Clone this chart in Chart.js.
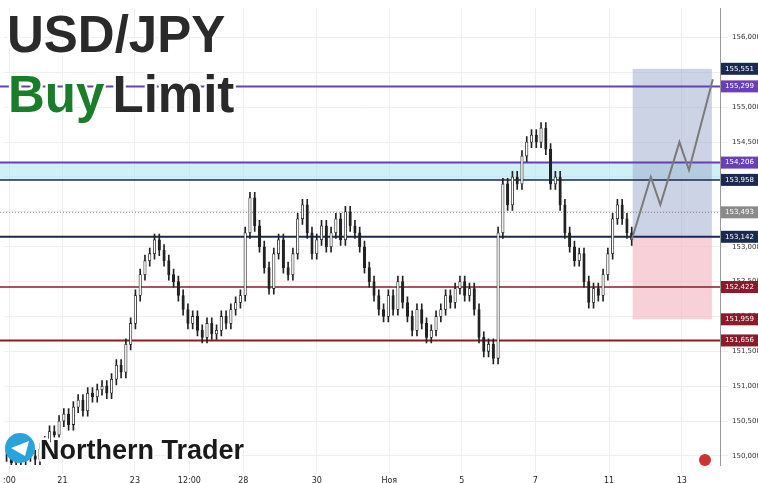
<!DOCTYPE html>
<html><head><meta charset="utf-8">
<script src="https://cdn.jsdelivr.net/npm/chart.js@4.4.0/dist/chart.umd.min.js"></script>
<style>html,body{margin:0;padding:0;background:#fff}#w{width:758px;height:483px}</style>
</head><body><div id="w"><canvas id="c"></canvas></div>
<script>
const closes=[150.0,149.9,150.05,149.95,150.1,150.0,149.95,150.1,150.2,
150.35,150.3,150.5,150.6,150.45,150.7,150.8,150.65,150.9,150.85,150.95,151.0,150.9,
151.1,151.3,151.2,151.6,151.9,152.3,152.6,
152.8,152.9,153.1,152.95,
152.8,152.6,152.5,152.3,152.1,
151.9,152.0,151.8,151.7,151.9,151.75,151.8,152.0,151.9,152.1,152.2,152.3,
153.2,153.7,153.3,153.0,152.7,
152.4,152.9,153.1,152.7,152.6,152.9,153.4,153.6,
153.2,152.9,153.1,153.3,153.0,153.2,
153.4,153.1,153.5,153.3,153.2,153.0,152.7,
152.5,152.3,152.1,152.0,152.3,152.1,152.5,152.2,152.0,151.8,152.1,151.9,
151.7,151.8,152.0,152.1,152.3,152.2,152.4,152.5,152.3,152.4,
152.1,151.7,151.5,151.6,151.4,153.2,
153.9,153.6,154.0,153.9,154.3,154.5,154.6,154.5,
154.7,154.4,153.9,154.0,153.6,
153.2,153.0,152.8,152.9,152.5,152.2,152.4,152.3,
152.6,152.9,153.4,153.6,153.4,153.2,153.1];
const projection=[{x:131,y:153.1},{x:135,y:154.0},{x:137,y:153.6},{x:141,y:154.5},{x:143,y:154.1},{x:148,y:155.4}];
const xTickPos=[0.6,11.7,26.9,38.3,49.6,65,80.2,95.4,110.8,126.25,141.5];
const xTickLabels=[':00','21','23','12:00','28','30','Ноя','5','7','11','13'];
const levels=[
 {v:155.551,c:'#1c2a4f',line:false},
 {v:155.299,c:'#6a3fb5',line:true,w:2},
 {v:154.206,c:'#6a3fb5',line:true,w:2},
 {v:153.958,c:'#1c2a4f',line:true,w:1.5},
 {v:153.493,c:'#8a8a8a',line:'dot',w:1},
 {v:153.142,c:'#1c2a4f',line:true,w:2},
 {v:152.422,c:'#8b1a2a',line:true,w:1.5},
 {v:151.959,c:'#8b1a2a',line:false},
 {v:151.656,c:'#8b1a2a',line:true,w:2}];
const fmt=v=>v.toFixed(3).replace('.',',');
const opens=closes.map((c,i)=>i?closes[i-1]:c);
const bodies=closes.map((c,i)=>({x:i,y:[opens[i],c]}));
const wicks=closes.map((c,i)=>({x:i,y:[Math.min(opens[i],c)-0.08,Math.max(opens[i],c)+0.08]}));
const up=closes.map((c,i)=>c>=opens[i]);
const deco={id:'deco',
 beforeDatasetsDraw(ch){const {ctx,scales:{x,y},chartArea:a}=ch;ctx.save();
  const X=v=>x.getPixelForValue(v),Y=v=>y.getPixelForValue(v);
  ctx.fillStyle='rgba(175,230,240,0.6)';ctx.fillRect(0,Y(154.206),a.right,Y(153.958)-Y(154.206));
  ctx.fillStyle='rgba(160,175,205,0.55)';ctx.fillRect(X(131.2),Y(155.551),X(147.8)-X(131.2),Y(153.142)-Y(155.551));
  ctx.fillStyle='rgba(245,190,200,0.7)';ctx.fillRect(X(131.2),Y(153.142),X(147.8)-X(131.2),Y(151.959)-Y(153.142));
  levels.forEach(l=>{if(!l.line)return;ctx.strokeStyle=l.c;ctx.lineWidth=l.w;ctx.setLineDash(l.line==='dot'?[1,2]:[]);
   ctx.beginPath();ctx.moveTo(0,Y(l.v));ctx.lineTo(a.right,Y(l.v));ctx.stroke();});
  ctx.setLineDash([]);ctx.restore();},
 afterDraw(ch){const {ctx,scales:{y},chartArea:a}=ch;ctx.save();
  levels.forEach(l=>{const py=y.getPixelForValue(l.v);ctx.fillStyle=l.c;ctx.fillRect(a.right+1,py-6,37,12);
   ctx.fillStyle='#fff';ctx.font='7px "DejaVu Sans"';ctx.textAlign='left';ctx.textBaseline='middle';ctx.fillText(fmt(l.v),a.right+5,py);});
  ctx.textBaseline='alphabetic';ctx.textAlign='left';
  ctx.font='bold 51px "Liberation Sans"';ctx.lineWidth=5;ctx.strokeStyle='#fff';
  ctx.strokeText('USD/JPY',7,52);ctx.fillStyle='#2a2a2a';ctx.fillText('USD/JPY',7,52);
  ctx.strokeText('Buy',8,112);ctx.fillStyle='#1a7d2a';ctx.fillText('Buy',8,112);
  const bw=ctx.measureText('Buy ').width;ctx.strokeText('Limit',8+bw-6,112);ctx.fillStyle='#2a2a2a';ctx.fillText('Limit',8+bw-6,112);
  ctx.beginPath();ctx.arc(20,448,15,0,7);ctx.fillStyle='#2aa3dd';ctx.fill();
  ctx.fillStyle='#fff';ctx.beginPath();ctx.moveTo(11,448);ctx.lineTo(29,441);ctx.lineTo(25,456);ctx.closePath();ctx.fill();
  ctx.font='bold 27px "Liberation Sans"';ctx.strokeText('Northern Trader',40,459);ctx.fillStyle='#1a1a1a';ctx.fillText('Northern Trader',40,459);
  ctx.beginPath();ctx.arc(705,460,6,0,7);ctx.fillStyle='#c33';ctx.fill();
  ctx.restore();}};
new Chart(document.getElementById('c'),{type:'bar',
 data:{datasets:[
  {data:wicks,backgroundColor:'#222',barThickness:1,grouped:false,order:2},
  {data:bodies,backgroundColor:up.map(u=>u?'#ffffff':'#222'),borderColor:'#222',borderWidth:0.8,borderSkipped:false,barThickness:2.5,grouped:false,order:1},
  {type:'line',data:projection,borderColor:'#7a7a7a',borderWidth:2,pointRadius:0,tension:0,order:0}]},
 options:{animation:false,responsive:true,maintainAspectRatio:false,
  plugins:{legend:{display:false},tooltip:{enabled:false}},
  layout:{padding:{left:-5}},
  scales:{
   x:{type:'linear',offset:false,min:-0.5,max:149.5,grid:{color:'#eeeeee',offset:false},border:{display:false},
    afterBuildTicks:s=>{s.ticks=xTickPos.map(v=>({value:v}));},
    ticks:{autoSkip:false,maxRotation:0,color:'#222',font:{size:8,family:'DejaVu Sans'},callback:(v)=>{const i=xTickPos.indexOf(v);return i>=0?xTickLabels[i]:'';}},
    afterFit:s=>{s.height=18;}},
   y:{position:'right',min:149.87,max:156.42,grid:{color:'#eeeeee'},border:{color:'#999'},
    afterBuildTicks:s=>{s.ticks=s.ticks.filter(t=>Math.abs(t.value*2-Math.round(t.value*2))<1e-6);},
    ticks:{stepSize:0.5,padding:4,color:'#333',font:{size:7,family:'DejaVu Sans'},callback:v=>fmt(v)},
    afterFit:s=>{s.width=38;}}}},
 plugins:[deco]});
</script></body></html>
